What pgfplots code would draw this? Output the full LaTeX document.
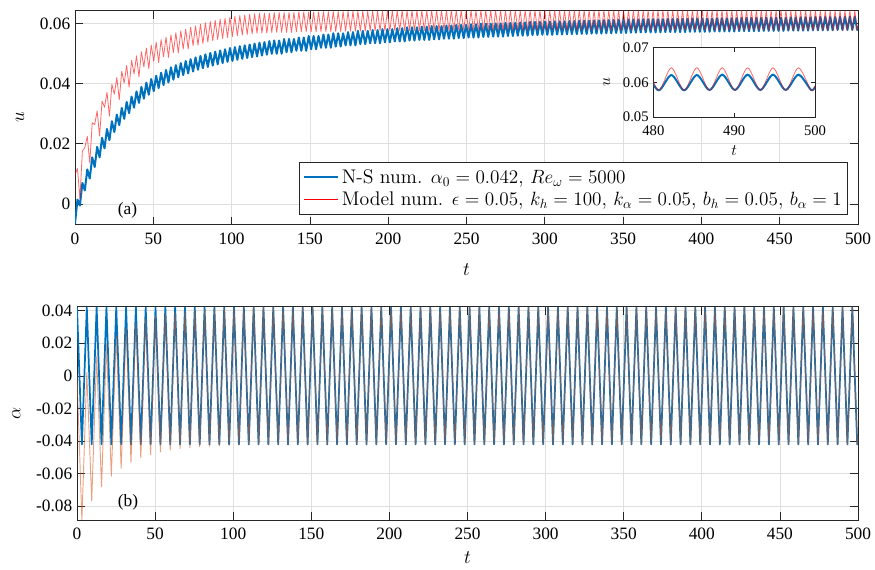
\documentclass[border=0pt]{standalone}
\usepackage{fontspec}
\usepackage{pgfplots}
\pgfplotsset{compat=1.18}
\usepackage{pgfplotstable}
\newfontfamily\tnr{Liberation Serif}
\definecolor{mblue}{rgb}{0,0.447,0.741}
\definecolor{morange}{rgb}{0.851,0.325,0.098}
\definecolor{mred}{rgb}{1,0,0}
\pgfplotsset{mstyle/.style={
 scale only axis, anchor=south west, scaled ticks=false,
 axis line style={black!85, line width=0.6pt},
 tick style={black!85, line width=0.6pt},
 tick align=inside, major tick length=6pt,
 grid=major, major grid style={gray!25, line width=0.5pt},
 xmin=0, xmax=500, xtick={0,50,...,500},
 ticklabel style={font=\tnr\fontsize{13}{15}\selectfont},
 xticklabel style={yshift=-2.5pt},
 /pgf/number format/assume math mode=true,
 label style={font=\fontsize{14}{16}\selectfont},
 ylabel style={yshift=5pt},
}}
\pgfplotstableread{
t ub ur ab ar
0 -0.0065 0.0097 0.042 0.0000
1.57 0.0015 0.0118 0 -0.0440
3.14 -0.0005 0.0017 -0.042 -0.0884
4.71 0.0070 0.0176 0 -0.0428
6.28 0.0045 0.0188 0.042 0.0021
7.85 0.0115 0.0225 0 -0.0371
9.42 0.0085 0.0136 -0.042 -0.0766
11.00 0.0155 0.0270 0 -0.0322
12.57 0.0123 0.0264 0.042 0.0120
14.14 0.0190 0.0309 0 -0.0279
15.71 0.0155 0.0226 -0.042 -0.0680
17.28 0.0220 0.0342 0 -0.0242
18.85 0.0185 0.0321 0.042 0.0195
20.42 0.0249 0.0371 0 -0.0210
21.99 0.0212 0.0292 -0.042 -0.0615
23.56 0.0275 0.0397 0 -0.0182
25.13 0.0239 0.0365 0.042 0.0251
26.70 0.0297 0.0420 0 -0.0158
28.27 0.0262 0.0346 -0.042 -0.0567
29.85 0.0319 0.0441 0 -0.0137
31.42 0.0283 0.0402 0.042 0.0293
32.99 0.0339 0.0460 0 -0.0118
34.56 0.0302 0.0388 -0.042 -0.0530
36.13 0.0357 0.0477 0 -0.0103
37.70 0.0320 0.0432 0.042 0.0324
39.27 0.0374 0.0492 0 -0.0089
40.84 0.0336 0.0422 -0.042 -0.0503
42.41 0.0389 0.0506 0 -0.0077
43.98 0.0350 0.0456 0.042 0.0348
45.55 0.0403 0.0518 0 -0.0067
47.12 0.0363 0.0449 -0.042 -0.0482
48.69 0.0415 0.0528 0 -0.0058
50.27 0.0375 0.0474 0.042 0.0366
51.84 0.0426 0.0538 0 -0.0050
53.41 0.0385 0.0470 -0.042 -0.0467
54.98 0.0436 0.0546 0 -0.0043
56.55 0.0395 0.0489 0.042 0.0380
58.12 0.0445 0.0554 0 -0.0038
59.69 0.0404 0.0487 -0.042 -0.0455
61.26 0.0454 0.0562 0 -0.0033
62.83 0.0413 0.0503 0.042 0.0390
64.40 0.0461 0.0569 0 -0.0028
65.97 0.0421 0.0502 -0.042 -0.0446
67.54 0.0468 0.0575 0 -0.0024
69.12 0.0428 0.0515 0.042 0.0397
70.69 0.0475 0.0581 0 -0.0021
72.26 0.0434 0.0515 -0.042 -0.0440
73.83 0.0481 0.0587 0 -0.0018
75.40 0.0440 0.0526 0.042 0.0403
76.97 0.0487 0.0592 0 -0.0016
78.54 0.0446 0.0527 -0.042 -0.0435
80.11 0.0492 0.0597 0 -0.0014
81.68 0.0451 0.0533 0.042 0.0407
83.25 0.0497 0.0602 0 -0.0012
84.82 0.0455 0.0538 -0.042 -0.0431
86.39 0.0502 0.0606 0 -0.0010
87.96 0.0460 0.0542 0.042 0.0410
89.54 0.0506 0.0610 0 -0.0009
91.11 0.0464 0.0546 -0.042 -0.0428
92.68 0.0510 0.0614 0 -0.0008
94.25 0.0468 0.0550 0.042 0.0413
95.82 0.0514 0.0617 0 -0.0006
97.39 0.0472 0.0553 -0.042 -0.0426
98.96 0.0518 0.0621 0 -0.0005
100.53 0.0475 0.0556 0.042 0.0415
102.10 0.0521 0.0623 0 -0.0004
103.67 0.0479 0.0559 -0.042 -0.0424
105.24 0.0524 0.0626 0 -0.0003
106.81 0.0482 0.0561 0.042 0.0417
108.38 0.0527 0.0628 0 -0.0003
109.96 0.0485 0.0563 -0.042 -0.042
111.53 0.0530 0.0630 0 0
113.10 0.0488 0.0565 0.042 0.042
114.67 0.0533 0.0632 0 0
116.24 0.0490 0.0567 -0.042 -0.042
117.81 0.0536 0.0634 0 0
119.38 0.0493 0.0568 0.042 0.042
120.95 0.0538 0.0634 0 0
122.52 0.0496 0.0568 -0.042 -0.042
124.09 0.0541 0.0634 0 0
125.66 0.0499 0.0570 0.042 0.042
127.23 0.0543 0.0636 0 0
128.81 0.0499 0.0570 -0.042 -0.042
130.38 0.0543 0.0636 0 0
131.95 0.0499 0.0570 0.042 0.042
133.52 0.0548 0.0636 0 0
135.09 0.0504 0.0570 -0.042 -0.042
136.66 0.0548 0.0636 0 0
138.23 0.0504 0.0570 0.042 0.042
139.80 0.0548 0.0636 0 0
141.37 0.0509 0.0572 -0.042 -0.042
142.94 0.0553 0.0638 0 0
144.51 0.0509 0.0572 0.042 0.042
146.08 0.0553 0.0638 0 0
147.65 0.0509 0.0572 -0.042 -0.042
149.23 0.0558 0.0638 0 0
150.80 0.0514 0.0572 0.042 0.042
152.37 0.0558 0.0638 0 0
153.94 0.0514 0.0572 -0.042 -0.042
155.51 0.0558 0.0638 0 0
157.08 0.0519 0.0573 0.042 0.042
158.65 0.0563 0.0639 0 0
160.22 0.0519 0.0573 -0.042 -0.042
161.79 0.0563 0.0639 0 0
163.36 0.0519 0.0573 0.042 0.042
164.93 0.0567 0.0639 0 0
166.50 0.0523 0.0573 -0.042 -0.042
168.08 0.0567 0.0639 0 0
169.65 0.0523 0.0573 0.042 0.042
171.22 0.0567 0.0639 0 0
172.79 0.0527 0.0574 -0.042 -0.042
174.36 0.0571 0.0640 0 0
175.93 0.0527 0.0574 0.042 0.042
177.50 0.0571 0.0640 0 0
179.07 0.0527 0.0574 -0.042 -0.042
180.64 0.0575 0.0640 0 0
182.21 0.0531 0.0574 0.042 0.042
183.78 0.0575 0.0640 0 0
185.35 0.0531 0.0574 -0.042 -0.042
186.92 0.0575 0.0640 0 0
188.50 0.0534 0.0575 0.042 0.042
190.07 0.0578 0.0641 0 0
191.64 0.0534 0.0575 -0.042 -0.042
193.21 0.0578 0.0641 0 0
194.78 0.0534 0.0575 0.042 0.042
196.35 0.0581 0.0641 0 0
197.92 0.0537 0.0575 -0.042 -0.042
199.49 0.0581 0.0641 0 0
201.06 0.0537 0.0575 0.042 0.042
202.63 0.0581 0.0641 0 0
204.20 0.0540 0.0576 -0.042 -0.042
205.77 0.0584 0.0642 0 0
207.35 0.0540 0.0576 0.042 0.042
208.92 0.0584 0.0642 0 0
210.49 0.0540 0.0576 -0.042 -0.042
212.06 0.0587 0.0642 0 0
213.63 0.0543 0.0576 0.042 0.042
215.20 0.0587 0.0642 0 0
216.77 0.0543 0.0576 -0.042 -0.042
218.34 0.0587 0.0642 0 0
219.91 0.0545 0.0576 0.042 0.042
221.48 0.0589 0.0642 0 0
223.05 0.0545 0.0576 -0.042 -0.042
224.62 0.0589 0.0642 0 0
226.19 0.0545 0.0576 0.042 0.042
227.77 0.0591 0.0642 0 0
229.34 0.0547 0.0576 -0.042 -0.042
230.91 0.0591 0.0642 0 0
232.48 0.0547 0.0576 0.042 0.042
234.05 0.0591 0.0642 0 0
235.62 0.0549 0.0577 -0.042 -0.042
237.19 0.0593 0.0642 0 0
238.76 0.0549 0.0577 0.042 0.042
240.33 0.0593 0.0642 0 0
241.90 0.0549 0.0577 -0.042 -0.042
243.47 0.0595 0.0642 0 0
245.04 0.0551 0.0577 0.042 0.042
246.62 0.0595 0.0642 0 0
248.19 0.0551 0.0577 -0.042 -0.042
249.76 0.0595 0.0642 0 0
251.33 0.0553 0.0577 0.042 0.042
252.90 0.0597 0.0642 0 0
254.47 0.0553 0.0577 -0.042 -0.042
256.04 0.0597 0.0642 0 0
257.61 0.0553 0.0577 0.042 0.042
259.18 0.0599 0.0642 0 0
260.75 0.0555 0.0577 -0.042 -0.042
262.32 0.0599 0.0642 0 0
263.89 0.0555 0.0577 0.042 0.042
265.46 0.0599 0.0642 0 0
267.04 0.0556 0.0577 -0.042 -0.042
268.61 0.0600 0.0642 0 0
270.18 0.0556 0.0577 0.042 0.042
271.75 0.0600 0.0642 0 0
273.32 0.0556 0.0577 -0.042 -0.042
274.89 0.0602 0.0642 0 0
276.46 0.0558 0.0577 0.042 0.042
278.03 0.0602 0.0642 0 0
279.60 0.0558 0.0577 -0.042 -0.042
281.17 0.0602 0.0642 0 0
282.74 0.0559 0.0577 0.042 0.042
284.31 0.0603 0.0642 0 0
285.88 0.0559 0.0577 -0.042 -0.042
287.46 0.0603 0.0642 0 0
289.03 0.0559 0.0577 0.042 0.042
290.60 0.0605 0.0642 0 0
292.17 0.0561 0.0577 -0.042 -0.042
293.74 0.0605 0.0642 0 0
295.31 0.0561 0.0577 0.042 0.042
296.88 0.0605 0.0642 0 0
298.45 0.0562 0.0577 -0.042 -0.042
300.02 0.0606 0.0642 0 0
301.59 0.0562 0.0577 0.042 0.042
303.16 0.0606 0.0642 0 0
304.73 0.0562 0.0577 -0.042 -0.042
306.31 0.0607 0.0642 0 0
307.88 0.0563 0.0577 0.042 0.042
309.45 0.0607 0.0642 0 0
311.02 0.0563 0.0577 -0.042 -0.042
312.59 0.0607 0.0642 0 0
314.16 0.0564 0.0577 0.042 0.042
315.73 0.0608 0.0642 0 0
317.30 0.0564 0.0577 -0.042 -0.042
318.87 0.0608 0.0642 0 0
320.44 0.0564 0.0577 0.042 0.042
322.01 0.0609 0.0642 0 0
323.58 0.0565 0.0577 -0.042 -0.042
325.15 0.0609 0.0642 0 0
326.73 0.0565 0.0577 0.042 0.042
328.30 0.0609 0.0642 0 0
329.87 0.0566 0.0577 -0.042 -0.042
331.44 0.0610 0.0642 0 0
333.01 0.0566 0.0577 0.042 0.042
334.58 0.0610 0.0642 0 0
336.15 0.0566 0.0577 -0.042 -0.042
337.72 0.0611 0.0642 0 0
339.29 0.0567 0.0577 0.042 0.042
340.86 0.0611 0.0642 0 0
342.43 0.0567 0.0577 -0.042 -0.042
344.00 0.0611 0.0642 0 0
345.58 0.0568 0.0577 0.042 0.042
347.15 0.0612 0.0642 0 0
348.72 0.0568 0.0577 -0.042 -0.042
350.29 0.0612 0.0642 0 0
351.86 0.0568 0.0577 0.042 0.042
353.43 0.0613 0.0642 0 0
355.00 0.0569 0.0577 -0.042 -0.042
356.57 0.0613 0.0642 0 0
358.14 0.0569 0.0577 0.042 0.042
359.71 0.0613 0.0642 0 0
361.28 0.0570 0.0577 -0.042 -0.042
362.85 0.0614 0.0642 0 0
364.42 0.0570 0.0577 0.042 0.042
365.99 0.0614 0.0642 0 0
367.57 0.0570 0.0577 -0.042 -0.042
369.14 0.0614 0.0642 0 0
370.71 0.0570 0.0577 0.042 0.042
372.28 0.0614 0.0642 0 0
373.85 0.0570 0.0577 -0.042 -0.042
375.42 0.0614 0.0642 0 0
376.99 0.0571 0.0577 0.042 0.042
378.56 0.0615 0.0642 0 0
380.13 0.0571 0.0577 -0.042 -0.042
381.70 0.0615 0.0642 0 0
383.27 0.0571 0.0577 0.042 0.042
384.85 0.0615 0.0642 0 0
386.42 0.0571 0.0577 -0.042 -0.042
387.99 0.0615 0.0642 0 0
389.56 0.0571 0.0577 0.042 0.042
391.13 0.0615 0.0642 0 0
392.70 0.0572 0.0577 -0.042 -0.042
394.27 0.0616 0.0642 0 0
395.84 0.0572 0.0577 0.042 0.042
397.41 0.0616 0.0642 0 0
398.98 0.0572 0.0577 -0.042 -0.042
400.55 0.0616 0.0642 0 0
402.12 0.0572 0.0577 0.042 0.042
403.69 0.0616 0.0642 0 0
405.27 0.0572 0.0577 -0.042 -0.042
406.84 0.0616 0.0642 0 0
408.41 0.0573 0.0577 0.042 0.042
409.98 0.0617 0.0642 0 0
411.55 0.0573 0.0577 -0.042 -0.042
413.12 0.0617 0.0642 0 0
414.69 0.0573 0.0577 0.042 0.042
416.26 0.0617 0.0642 0 0
417.83 0.0573 0.0577 -0.042 -0.042
419.40 0.0617 0.0642 0 0
420.97 0.0573 0.0577 0.042 0.042
422.54 0.0617 0.0642 0 0
424.12 0.0574 0.0577 -0.042 -0.042
425.69 0.0618 0.0642 0 0
427.26 0.0574 0.0577 0.042 0.042
428.83 0.0618 0.0642 0 0
430.40 0.0574 0.0577 -0.042 -0.042
431.97 0.0618 0.0642 0 0
433.54 0.0574 0.0577 0.042 0.042
435.11 0.0618 0.0642 0 0
436.68 0.0574 0.0577 -0.042 -0.042
438.25 0.0618 0.0642 0 0
439.82 0.0575 0.0577 0.042 0.042
441.39 0.0619 0.0642 0 0
442.96 0.0575 0.0577 -0.042 -0.042
444.54 0.0619 0.0642 0 0
446.11 0.0575 0.0577 0.042 0.042
447.68 0.0619 0.0642 0 0
449.25 0.0575 0.0577 -0.042 -0.042
450.82 0.0619 0.0642 0 0
452.39 0.0575 0.0577 0.042 0.042
453.96 0.0619 0.0642 0 0
455.53 0.0576 0.0577 -0.042 -0.042
457.10 0.0620 0.0642 0 0
458.67 0.0576 0.0577 0.042 0.042
460.24 0.0620 0.0642 0 0
461.81 0.0576 0.0577 -0.042 -0.042
463.38 0.0620 0.0642 0 0
464.96 0.0576 0.0577 0.042 0.042
466.53 0.0620 0.0642 0 0
468.10 0.0576 0.0577 -0.042 -0.042
469.67 0.0620 0.0642 0 0
471.24 0.0577 0.0577 0.042 0.042
472.81 0.0621 0.0642 0 0
474.38 0.0577 0.0577 -0.042 -0.042
475.95 0.0621 0.0642 0 0
477.52 0.0577 0.0577 0.042 0.042
479.09 0.0621 0.0642 0 0
480.66 0.0577 0.0577 -0.042 -0.042
482.23 0.0621 0.0642 0 0
483.81 0.0577 0.0577 0.042 0.042
485.38 0.0621 0.0642 0 0
486.95 0.0578 0.0577 -0.042 -0.042
488.52 0.0622 0.0642 0 0
490.09 0.0578 0.0577 0.042 0.042
491.66 0.0622 0.0642 0 0
493.23 0.0578 0.0577 -0.042 -0.042
494.80 0.0622 0.0642 0 0
496.37 0.0578 0.0577 0.042 0.042
497.94 0.0622 0.0642 0 0
499.51 0.0578 0.0577 -0.042 -0.042
500 0.0588 0.0591 -0.037 -0.037
}\data
\begin{document}
\begin{tikzpicture}
\useasboundingbox (0,0) rectangle (656.25pt,426.75pt);
% top panel
\begin{axis}[mstyle, at={(56.25pt,258.375pt)}, width=587.25pt, height=160.35pt,
 ymin=-0.0068, ymax=0.0642, ytick={0,0.02,0.04,0.06}, yticklabels={0,0.02,0.04,0.06},
 xlabel={$t$}, ylabel={$u$}, xlabel style={yshift=-8pt},
 legend style={at={(1,0)}, anchor=south east, xshift=-7.5pt, yshift=7.5pt,
   draw=black!85, fill=white, font=\fontsize{14.8}{17}\selectfont,
   cells={anchor=west}, row sep=1pt, inner xsep=2.5pt, inner ysep=3pt}]
\addplot[mblue, line width=1.5pt, line join=round, forget plot] table[x=t,y=ub]{\data};
\addplot[mred, line width=0.6pt, opacity=0.6, line join=round, forget plot] table[x=t,y=ur]{\data};
\addlegendimage{legend image code/.code={\draw[mblue, line width=1.5pt] (0pt,0pt) -- (26pt,0pt);}}
\addlegendentry{N-S num. $\alpha_0 = 0.042$, $Re_\omega = 5000$}
\addlegendimage{legend image code/.code={\draw[color=mred, line width=0.8pt] (0pt,0pt) -- (26pt,0pt);}}
\addlegendentry{Model num. $\epsilon = 0.05$, $k_h = 100$, $k_\alpha = 0.05$, $b_h = 0.05$, $b_\alpha = 1$}
\node[font=\tnr\fontsize{13}{15}\selectfont] at (axis cs:33.5,-0.0022) {(a)};
\end{axis}
% inset
\begin{axis}[scale only axis, anchor=south west, at={(490pt,339pt)}, width=121.3pt, height=52pt,
 scaled ticks=false,
 xmin=480, xmax=500, ymin=0.05, ymax=0.07, xtick={480,490,500},
 ytick={0.05,0.06,0.07}, yticklabels={0.05,0.06,0.07},
 axis background/.style={fill=white},
 axis line style={black!85, line width=0.6pt}, tick style={black!85, line width=0.6pt},
 tick align=inside, major tick length=3pt,
 ticklabel style={font=\tnr\fontsize{11}{13}\selectfont},
 xticklabel style={yshift=-3pt},
 /pgf/number format/assume math mode=true,
 xlabel={$t$}, ylabel={$u$}, label style={font=\fontsize{12}{14}\selectfont},
 xlabel style={yshift=-1pt}, ylabel style={yshift=2.75pt}]
\addplot[mblue, line width=1.5pt, smooth, restrict x to domain=476:500] table[x=t,y=ub]{\data};
\addplot[mred, line width=0.6pt, opacity=0.6, smooth, restrict x to domain=476:500] table[x=t,y=ur]{\data};
\end{axis}
% bottom panel
\begin{axis}[mstyle, at={(57.75pt,36.75pt)}, width=585.75pt, height=160pt,
 ymin=-0.0884, ymax=0.0425,
 ytick={-0.08,-0.06,-0.04,-0.02,0,0.02,0.04},
 yticklabels={-0.08,-0.06,-0.04,-0.02,0,0.02,0.04},
 xlabel={$t$}, ylabel={$\alpha$}, xlabel style={yshift=-2pt}]
\addplot[mblue, line width=1.3pt, line join=round] table[x=t,y=ab]{\data};
\addplot[morange, line width=0.7pt, opacity=0.55, line join=round] table[x=t,y=ar]{\data};
\node[font=\tnr\fontsize{13}{15}\selectfont] at (axis cs:32.6,-0.0775) {(b)};
\end{axis}
\end{tikzpicture}
\end{document}
